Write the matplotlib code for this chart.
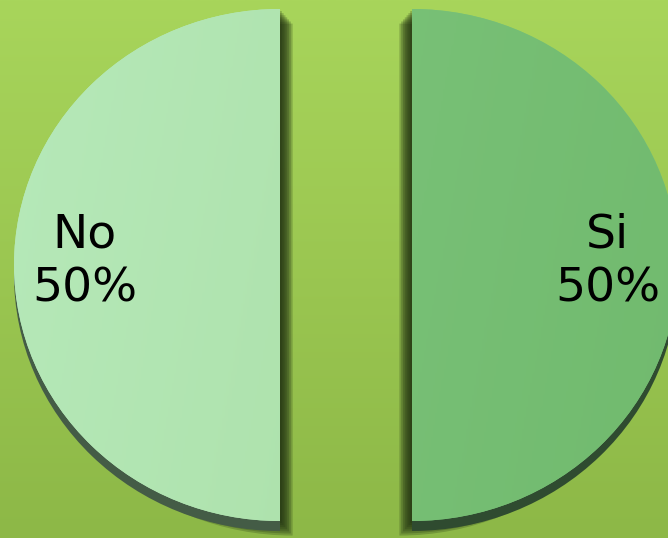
import numpy as np
import matplotlib.pyplot as plt
import matplotlib.patheffects as pe
from matplotlib.colors import LinearSegmentedColormap

# chart data
categories = ['Si', 'No']
values = [50, 50]

# colours (left edge, right edge of each slice gradient)
face_grad = {'Si': ('#7dc57c', '#71ba6e'), 'No': ('#b6e9b9', '#a9dea5')}
side_color = {'Si': '#2f4b30', 'No': '#445c46'}
shadow_dir = {'Si': -1, 'No': 1}

W, H = 668, 538
squash = 256 / 266  # pie is a bit flatter than a circle

fig = plt.figure(figsize=(W / 100, H / 100), dpi=100)
ax = fig.add_axes([0, 0, 1, 1])

ytop = H / squash
cx, cy = 346, (H - 265) / squash
radius = 266

# background gradient
bg = np.linspace(0, 1, 256).reshape(-1, 1)
bg_cmap = LinearSegmentedColormap.from_list('bg', ['#8db847', '#a8d55b'])
ax.imshow(bg, cmap=bg_cmap, extent=(0, W, 0, ytop), aspect='auto',
          origin='lower', zorder=0)

total = sum(values)
labels = [f"{c}\n{v / total * 100:.0f}%" for c, v in zip(categories, values)]

wedges, texts = ax.pie(values, labels=labels, startangle=90, counterclock=False,
                       radius=radius, center=(cx, cy), explode=[66, 66],
                       labeldistance=0.735,
                       colors=[face_grad[c][0] for c in categories],
                       wedgeprops=dict(linewidth=0),
                       textprops=dict(fontsize=34, color='black', linespacing=1.25))

for w, t, c in zip(wedges, texts, categories):
    # soft drop shadow towards the gap and downwards, then the slice's side face
    d = shadow_dir[c]
    effects = []
    for k in range(1, 8):
        effects.append(pe.SimplePatchShadow(offset=(d * 1.3 * k, -1.5 * k),
                                            shadow_rgbFace='#1e2e10', alpha=0.24))
    effects.append(pe.SimplePatchShadow(offset=(0, -7.2), shadow_rgbFace=side_color[c],
                                        alpha=1.0))
    effects.append(pe.Normal())
    w.set_path_effects(effects)
    w.set_zorder(1)

    # gradient face clipped to the wedge
    x0 = w.center[0] - radius
    x1 = w.center[0] + radius
    gx = np.linspace(0, 1, 256)
    gy = np.linspace(0, 1, 256)
    grad = 0.85 * gx[None, :] + 0.15 * (1 - gy[:, None])
    cmap = LinearSegmentedColormap.from_list('f' + c, list(face_grad[c]))
    im = ax.imshow(grad, cmap=cmap, extent=(x0, x1, cy - radius, cy + radius),
                   aspect='auto', origin='lower', zorder=2)
    im.set_clip_path(w)

    # labels sit centred, a touch above the slice middle
    tx, ty = t.get_position()
    t.set_position((tx, ty + 3 / squash))
    t.set_ha('center')
    t.set_va('center')
    t.set_zorder(3)

ax.set_aspect('auto')
ax.set_xlim(0, W)
ax.set_ylim(0, ytop)
ax.axis('off')

fig.savefig('out.png', dpi=100)
